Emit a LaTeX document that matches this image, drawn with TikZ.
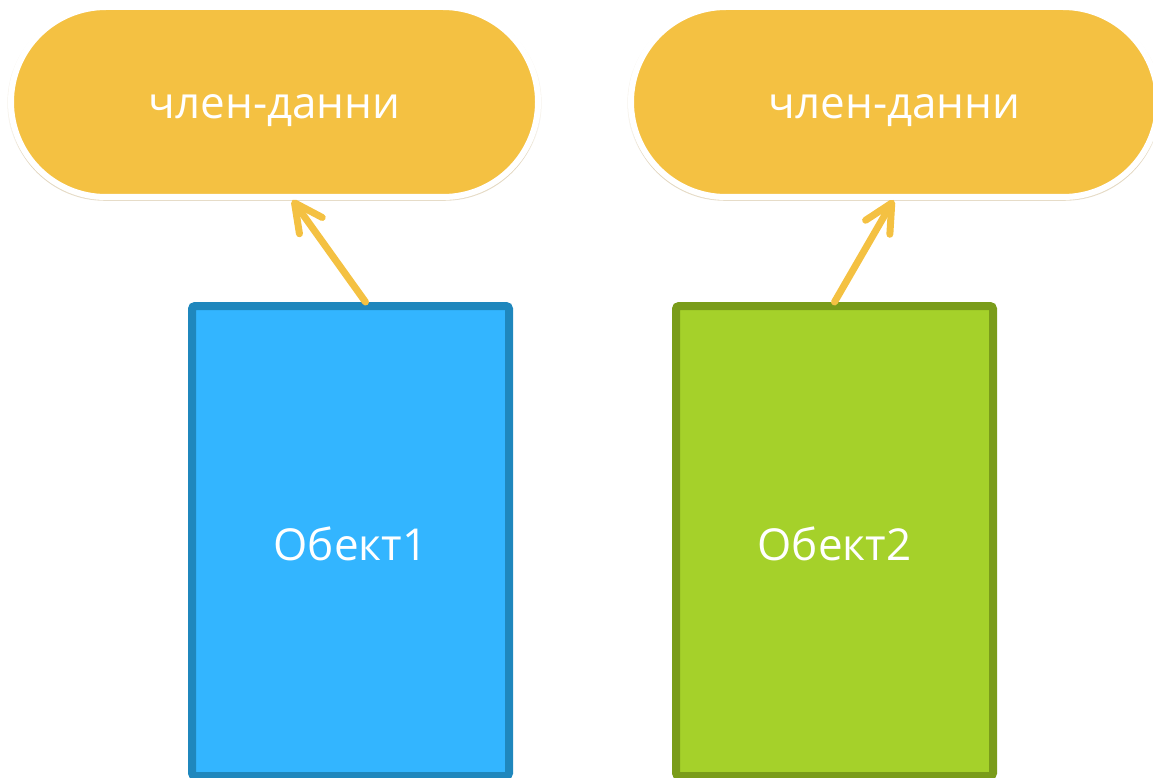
\documentclass[tikz,border=0pt]{standalone}
\usepackage{fontspec}
\setmainfont{Open Sans}
\usetikzlibrary{shapes.misc,arrows.meta,calc,shadows}
\definecolor{pillorange}{HTML}{F4C142}
\definecolor{shadowtan}{HTML}{B89A60}
\definecolor{bluefill}{HTML}{33B5FF}
\definecolor{blueline}{HTML}{1F87BD}
\definecolor{greenfill}{HTML}{A5D12A}
\definecolor{greenline}{HTML}{7A9C1A}
\newcommand{\lowtext}[2]{\raisebox{-#1}[0pt][0pt]{#2}}
\tikzset{
  pill/.style={rounded rectangle, draw=white, line width=6pt, fill=pillorange,
    minimum width=527pt, minimum height=190pt, inner sep=0pt,
    text=white, font=\fontsize{44}{50}\selectfont,
    general shadow={shadow scale=1.008, shadow yshift=-3pt, opacity=0.35, fill=shadowtan},
    general shadow={shadow scale=1.014, shadow yshift=-1pt, opacity=0.12, fill=shadowtan}},
  objbox/.style={rectangle, rounded corners=3pt, line width=8pt,
    minimum width=317pt, minimum height=470pt, inner sep=0pt,
    text=white, font=\fontsize{44}{50}\selectfont},
  link/.style={draw=pillorange, line width=7pt, line cap=round,
    -{Straight Barb[length=28pt,width=28pt,round]}}
}
\begin{document}
\begin{tikzpicture}[x=1pt,y=-1pt]
\useasboundingbox (0,0) rectangle (1153,778);
\node[pill] (m1) at (274.5,102) {\lowtext{17pt}{член-данни}};
\node[pill] (m2) at (894.5,102) {\lowtext{17pt}{член-данни}};
\node[objbox, fill=bluefill, draw=blueline] (o1) at (350.5,541) {\lowtext{19pt}{Обект1}};
\node[objbox, fill=greenfill, draw=greenline] (o2) at (834.5,541) {\lowtext{19pt}{Обект2}};
\draw[link] ($(o1.north)+(15,0)$) -- ($(m1.south)+(18,0)$);
\draw[link] ($(o2.north)+(0,0)$) -- ($(m2.south)+(-1,0)$);
\end{tikzpicture}
\end{document}
